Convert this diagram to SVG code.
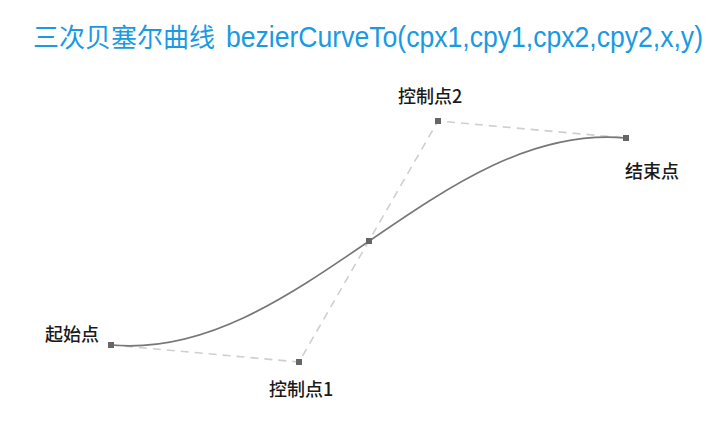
<svg xmlns="http://www.w3.org/2000/svg" width="726" height="429" viewBox="0 0 726 429">
  <style>
    .title { font-family: "Liberation Sans", "Noto Sans CJK SC", sans-serif; font-size: 26px; fill: #1a9ae2; }
    .label { font-family: "Noto Sans CJK SC", sans-serif; font-size: 18px; font-weight: 500; fill: #1a1a1a; }
    .guide { fill: none; stroke: #cfcfcf; stroke-width: 1.6; stroke-dasharray: 8 6; }
    .curve { fill: none; stroke: #777; stroke-width: 1.6; }
    .pt { fill: #666; }
  </style>
  <rect width="726" height="429" fill="#fff"/>

  <g id="title">
    <text class="title" x="33" y="47" textLength="182" lengthAdjust="spacingAndGlyphs">三次贝塞尔曲线</text>
    <g transform="translate(0,47) scale(1,1.15)">
      <text class="title" x="226" y="0" textLength="477" lengthAdjust="spacingAndGlyphs">bezierCurveTo(cpx1,cpy1,cpx2,cpy2,x,y)</text>
    </g>
  </g>

  <g id="connectors">
    <polyline class="guide" points="111,345 299,362 438,121 626,138"/>
    <path class="curve" d="M111,345 C299,362 438,121 626,138"/>
  </g>

  <g id="start">
    <rect class="pt" x="108" y="342" width="6" height="6"/>
    <text class="label" x="45" y="341">起始点</text>
  </g>
  <g id="cp1">
    <rect class="pt" x="296" y="359" width="6" height="6"/>
    <text class="label" x="269" y="396">控制点1</text>
  </g>
  <g id="cp2">
    <rect class="pt" x="435" y="118" width="6" height="6"/>
    <text class="label" x="398" y="103">控制点2</text>
  </g>
  <g id="end">
    <rect class="pt" x="623" y="135" width="6" height="6"/>
    <text class="label" x="625" y="178">结束点</text>
  </g>
  <g id="mid">
    <rect class="pt" x="366" y="238" width="6" height="6"/>
  </g>
</svg>
